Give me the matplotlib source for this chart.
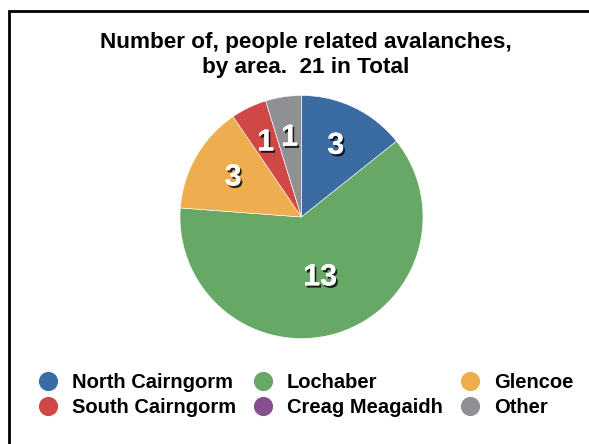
import matplotlib
matplotlib.use("Agg")
import matplotlib.pyplot as plt
import matplotlib.patheffects as pe
from matplotlib.lines import Line2D
from matplotlib.patches import Rectangle
import numpy as np

areas = ["North Cairngorm", "Lochaber", "Glencoe", "South Cairngorm", "Creag Meagaidh", "Other"]
counts = [3, 13, 3, 1, 0, 1]
colors = ["#3a6ca3", "#67a866", "#eeae4f", "#d04845", "#86508e", "#8f9093"]
title = "Number of, people related avalanches,\nby area.  21 in Total"
label_radius = [0.65, 0.52, 0.65, 0.68, 0.65, 0.66]

W, H = 589, 444
plt.rcParams['font.family'] = ['Liberation Sans', 'DejaVu Sans']
fig = plt.figure(figsize=(W / 100, H / 100), dpi=100)

# border (only top and left visible, extends past image)
fig.patches.append(Rectangle((8.7 / W, -0.2), 1.5, (H - 10.7) / H + 0.2,
                             transform=fig.transFigure, fill=False,
                             edgecolor="black", linewidth=2.0))

cx, cy, r = 301.5, 217, 121.5
ax = fig.add_axes([(cx - r) / W, (H - cy - r) / H, 2 * r / W, 2 * r / H])
wedges, _ = ax.pie(counts, colors=colors, startangle=90, counterclock=False,
                   radius=1.0, wedgeprops=dict(edgecolor="white", linewidth=0.4))
ax.set_xlim(-1, 1)
ax.set_ylim(-1, 1)
ax.axis("off")

shadow = [pe.withSimplePatchShadow(offset=(1.3, -1.6), shadow_rgbFace="black", alpha=0.8),
          pe.Normal()]
for w, v, lr in zip(wedges, counts, label_radius):
    if v == 0:
        continue
    ang = np.deg2rad((w.theta1 + w.theta2) / 2)
    ax.text(lr * np.cos(ang), lr * np.sin(ang), str(v), ha="center", va="center",
            color="white", fontsize=22, fontweight="bold", path_effects=shadow)

fig.text(306 / W, 1 - 55 / H, title, ha="center", va="center", fontsize=16.2,
         fontweight="bold", linespacing=1.2)

handles = [Line2D([], [], linestyle="none", marker="o", markersize=12.8,
                  markerfacecolor=c, markeredgecolor=c) for c in colors]
# legend fills column-wise; reorder so rows read left-to-right
order = [0, 3, 1, 4, 2, 5]
leg = fig.legend([handles[i] for i in order], [areas[i] for i in order], ncol=3,
                 frameon=False, loc="center left",
                 bbox_to_anchor=(38 / W, 1 - 395 / H),
                 prop=dict(size=14.5, weight="bold"),
                 handletextpad=0.68, columnspacing=0.85, labelspacing=0.34,
                 handlelength=1.0, borderpad=0, borderaxespad=0)

fig.savefig("out.png", dpi=100)
